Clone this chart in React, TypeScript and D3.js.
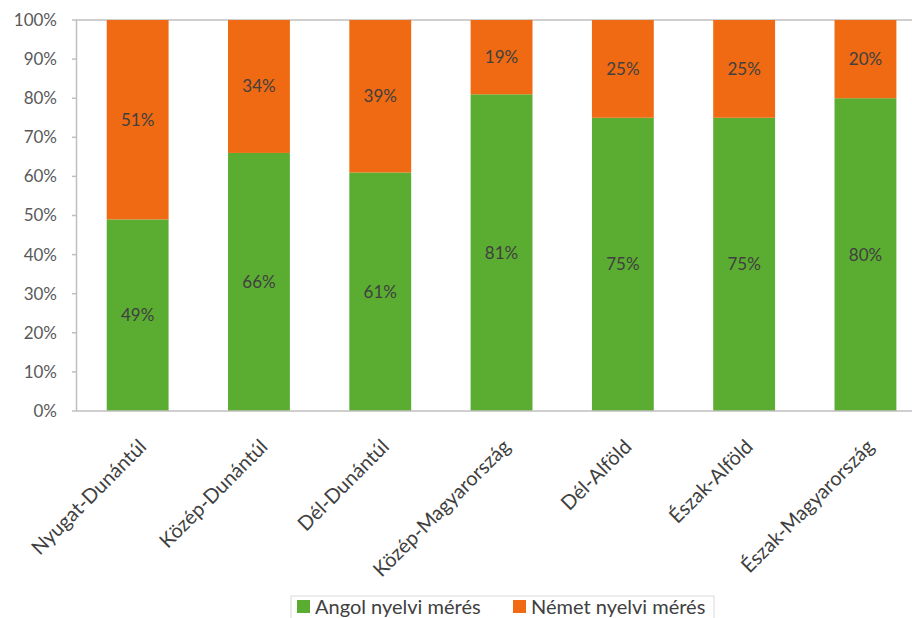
import React from "react";
import * as d3 from "d3";

const categories = [
  "Nyugat-Dunántúl",
  "Közép-Dunántúl",
  "Dél-Dunántúl",
  "Közép-Magyarország",
  "Dél-Alföld",
  "Észak-Alföld",
  "Észak-Magyarország",
];
const angol = [49, 66, 61, 81, 75, 75, 80];
const nemet = [51, 34, 39, 19, 25, 25, 20];
const seriesNames = ["Angol nyelvi mérés", "Német nyelvi mérés"];
const yTicks = [0, 10, 20, 30, 40, 50, 60, 70, 80, 90, 100];

const W = 912;
const H = 618;
const GREEN = "#5BAD32";
const ORANGE = "#EF6A12";
const FONT = "Lato, 'Open Sans', sans-serif";

export default function App() {
  const x0 = 77;
  const step = 121.3;
  const x = d3
    .scaleBand<string>()
    .domain(categories)
    .range([x0, x0 + step * categories.length])
    .paddingInner(0.49)
    .paddingOuter(0.245);
  const y = d3.scaleLinear().domain([0, 100]).range([411, 20]);

  const rows = categories.map((c, i) => ({ c, a: angol[i], n: nemet[i] }));
  const stack = d3.stack<any>().keys(["a", "n"])(rows);
  const colors = [GREEN, ORANGE];

  return (
    <svg
      width={W}
      height={H}
      style={{ position: "absolute", left: 0, top: 0, background: "#fff" }}
    >
      <line x1={x0} x2={W} y1={y(100)} y2={y(100)} stroke="#bfbfbf" strokeWidth={1.5} />
      {stack.map((s, si) => (
        <g key={si}>
          {s.map((d, i) => (
            <rect
              key={i}
              x={x(categories[i])!}
              width={x.bandwidth()}
              y={y(d[1])}
              height={y(d[0]) - y(d[1])}
              fill={colors[si]}
            />
          ))}
        </g>
      ))}
      {stack.map((s, si) => (
        <g key={"l" + si}>
          {s.map((d, i) => (
            <text
              key={i}
              x={x(categories[i])! + x.bandwidth() / 2}
              y={(y(d[0]) + y(d[1])) / 2}
              dy="0.35em"
              textAnchor="middle"
              fontFamily={FONT}
              fontSize={17}
              fill="#404040"
            >
              {(si === 0 ? angol[i] : nemet[i]) + "%"}
            </text>
          ))}
        </g>
      ))}
      <line x1={x0 - 0.5} x2={x0 - 0.5} y1={y(100)} y2={y(0)} stroke="#bfbfbf" strokeWidth={1.5} />
      <line x1={x0} x2={W} y1={y(0)} y2={y(0)} stroke="#bfbfbf" strokeWidth={1.5} />
      {yTicks.map((t) => (
        <g key={t}>
          <line x1={x0 - 5} x2={x0} y1={y(t)} y2={y(t)} stroke="#bfbfbf" strokeWidth={1.5} />
          <text
            x={57}
            y={y(t)}
            dy="0.35em"
            textAnchor="end"
            fontFamily={FONT}
            fontSize={17}
            fill="#595959"
          >
            {t + "%"}
          </text>
        </g>
      ))}
      {categories.map((c) => {
        const cx = x(c)! + x.bandwidth() / 2;
        return (
          <text
            key={c}
            transform={`translate(${cx + 10},${448}) rotate(-45)`}
            textAnchor="end"
            fontFamily={FONT}
            fontSize={20}
            fill="#404040"
          >
            {c}
          </text>
        );
      })}
      <rect x={291} y={596} width={423} height={28} fill="#fff" stroke="#d9d9d9" />
      {seriesNames.map((n, i) => {
        const lx = i === 0 ? 297 : 513;
        return (
          <g key={n}>
            <rect x={lx} y={600} width={13} height={13} fill={colors[i]} />
            <text x={lx + 18} y={607} dy="0.35em" fontFamily={FONT} fontSize={20} fill="#404040">
              {n}
            </text>
          </g>
        );
      })}
    </svg>
  );
}
